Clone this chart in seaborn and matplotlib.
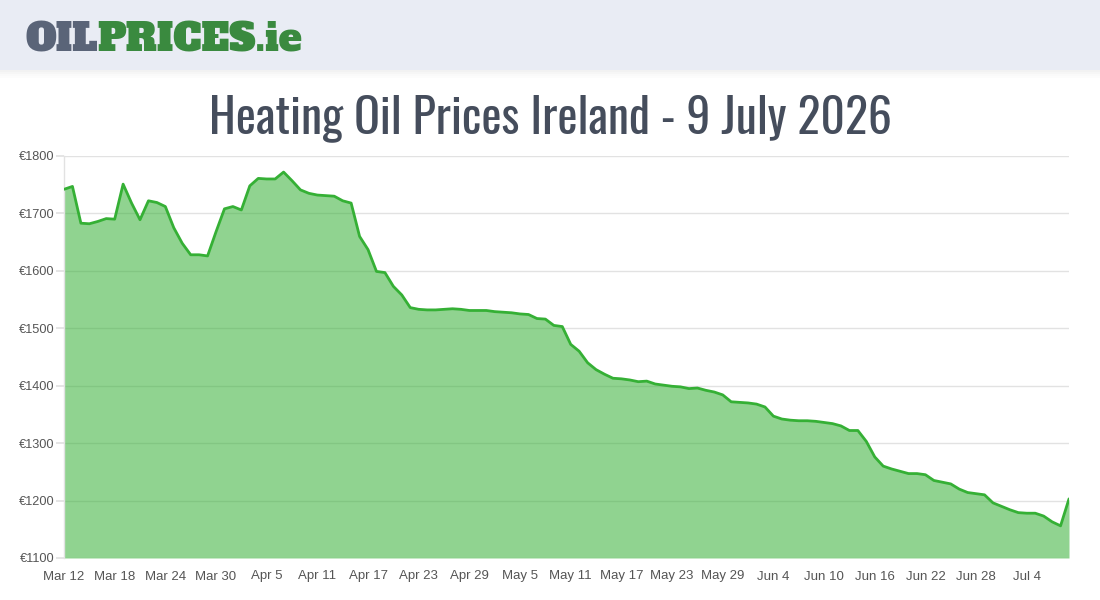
import numpy as np
import pandas as pd
import matplotlib
matplotlib.use("Agg")
import matplotlib.pyplot as plt
import seaborn as sns
from matplotlib.patches import Rectangle

# ---- data ----
start_date = "2026-03-12"
prices = [
    1742, 1747, 1683, 1682, 1686, 1691, 1690, 1751, 1718, 1689,
    1722, 1719, 1712, 1675, 1648, 1628, 1628, 1626, 1668, 1708,
    1712, 1706, 1748, 1761, 1760, 1760, 1772, 1757, 1741, 1735,
    1732, 1731, 1730, 1722, 1718, 1660, 1637, 1599, 1597, 1573,
    1558, 1536, 1533, 1532, 1532, 1533, 1534, 1533, 1531, 1531,
    1531, 1529, 1528, 1527, 1525, 1524, 1517, 1516, 1505, 1503,
    1472, 1460, 1440, 1428, 1420, 1413, 1412, 1410, 1407, 1408,
    1403, 1401, 1399, 1398, 1395, 1396, 1392, 1389, 1384, 1372,
    1371, 1370, 1368, 1363, 1347, 1342, 1340, 1339, 1339, 1338,
    1336, 1334, 1330, 1322, 1322, 1303, 1276, 1260, 1255, 1251,
    1247, 1247, 1245, 1235, 1232, 1229, 1220, 1214, 1212, 1210,
    1196, 1190, 1184, 1179, 1178, 1178, 1173, 1163, 1156, 1203,
]
y_ticks = [1100, 1200, 1300, 1400, 1500, 1600, 1700, 1800]
title_text = "Heating Oil Prices Ireland - 9 July 2026"
logo_left = "OIL"
logo_right = "PRICES.ie"

dates = pd.date_range(start_date, periods=len(prices), freq="D")
df = pd.DataFrame({"date": dates, "price": prices})

# ---- style ----
sns.set_theme(style="white")
plt.rcParams["font.family"] = ["Liberation Sans", "DejaVu Sans"]

W, H = 1100, 600
fig = plt.figure(figsize=(11, 6), dpi=100)
fig.patch.set_facecolor("white")

# header band + soft shadow
for i, a in enumerate([0.05, 0.035, 0.02, 0.01]):
    fig.patches.append(Rectangle((0, 1 - (70 + 2 * (i + 1)) / H), 1, 2 / H,
                                 transform=fig.transFigure, color="#000000",
                                 alpha=a, lw=0, zorder=0))
fig.patches.append(Rectangle((0, 1 - 70 / H), 1, 70 / H, transform=fig.transFigure,
                             color="#e9ecf4", lw=0, zorder=1))

renderer = fig.canvas.get_renderer()

# logo
logo_fs = 24
t1 = fig.text(25 / W, 1 - 52 / H, logo_left, family="Alfa Slab One",
              fontsize=logo_fs, color="#5a6478", va="baseline", ha="left")
t2 = fig.text(0, 1 - 52 / H, logo_right, family="Alfa Slab One",
              fontsize=logo_fs, color="#3a8a3f", va="baseline", ha="left")
w_total = t1.get_window_extent(renderer).width + t2.get_window_extent(renderer).width
logo_fs = logo_fs * 278 / w_total
t1.set_fontsize(logo_fs)
t2.set_fontsize(logo_fs)
t2.set_x(t1.get_window_extent(renderer).x1 / W)

# title
tt = fig.text(0.5, 1 - 133 / H, title_text, family="Oswald", weight="semibold",
              fontsize=30, color="#454d5c", ha="center", va="baseline")
tt.set_fontsize(30 * 683 / tt.get_window_extent(renderer).width)

ax = fig.add_axes([64 / W, 42 / H, (1069 - 64) / W, (558 - 156) / H])
line_color = "#35b035"
ax.fill_between(df["date"], df["price"], y_ticks[0], color=line_color, alpha=0.55,
                lw=0, zorder=2)
sns.lineplot(data=df, x="date", y="price", ax=ax, color=line_color, lw=2.0, zorder=3)

ax.set_xlim(dates[0], dates[-1])
ax.set_ylim(y_ticks[0], y_ticks[-1])
ax.set_yticks(y_ticks)
ax.set_yticklabels([f"€{v}" for v in y_ticks])
tick_dates = dates[::6]
ax.set_xticks(tick_dates)
ax.set_xticklabels([f"{d.strftime('%b')} {d.day}" for d in tick_dates])

ax.grid(axis="y", color="#e2e2e2", lw=1, zorder=1)
ax.grid(axis="x", visible=False)
for s in ["top", "right", "bottom"]:
    ax.spines[s].set_visible(False)
ax.spines["left"].set_color("#e2e2e2")
ax.spines["left"].set_linewidth(1)
ax.tick_params(axis="y", length=6, color="#e2e2e2", labelsize=9.2, labelcolor="#555555", pad=1, left=True)
ax.tick_params(axis="x", length=0, labelsize=9.5, labelcolor="#555555", pad=9)
ax.set_xlabel("")
ax.set_ylabel("")
ax.set_facecolor("white")

fig.savefig("out.png", dpi=100)
